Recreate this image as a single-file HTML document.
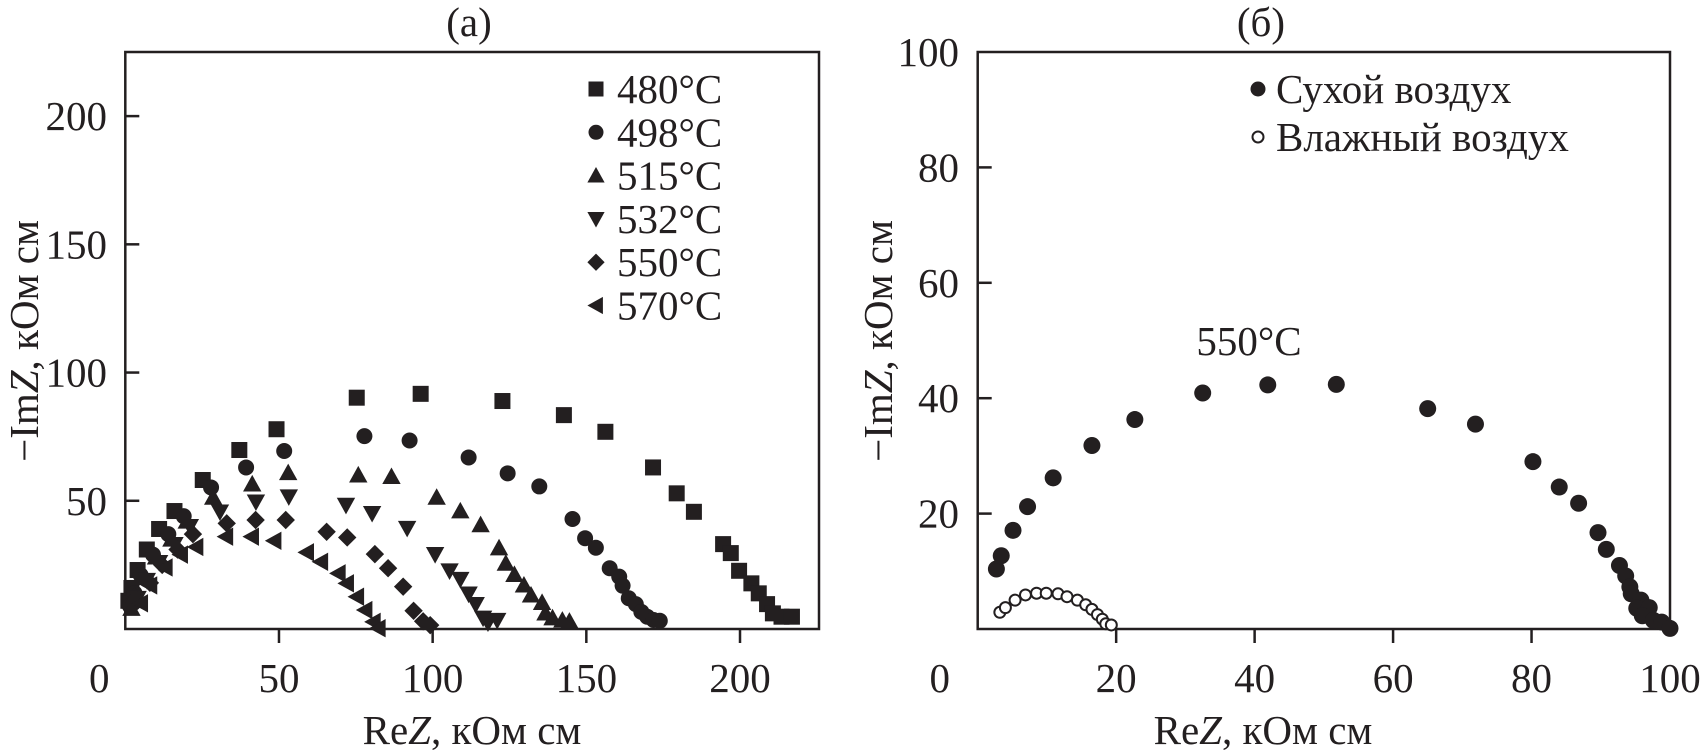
<!DOCTYPE html>
<html><head><meta charset="utf-8">
<style>
html,body{margin:0;padding:0;background:#fff;}
svg{display:block;}
text{font-family:"Liberation Serif",serif;fill:#231f20;}
</style></head>
<body>
<svg id="fig" width="1708" height="750" viewBox="0 0 1708 750" xmlns="http://www.w3.org/2000/svg">
<g id="pa"></g>
<g id="pb"></g>
</svg>
<script>
// Panel (a) data
const seriesNamesA = ["480°C","498°C","515°C","532°C","550°C","570°C"];
const markersA = ["square","circle","up","down","diamond","left"];
const s480x = [1,2,4,7,11,16,25.2,37.1,49.2,75.3,96.1,122.7,142.7,156.2,171.7,179.4,185,194.5,197,199.7,203.7,206.1,208.8,210.7,213.5,216.9];
const s480y = [11,16,23,31,39,46,58.1,69.8,77.9,90.2,91.7,88.9,83.4,76.9,63,52.9,45.7,33.1,29.6,22.7,17.8,13.9,9.7,6.1,4.8,4.8];
const s498x = [1.5,3,5,9,14,19,27.9,39.3,51.7,77.8,92.5,111.7,124.4,134.7,145.5,149.6,153.1,157.6,160.7,161.8,163.8,166.1,167.9,169.8,171.9,173.9];
const s498y = [9,14,21,29,37,44,55.2,63,69.4,75.2,73.5,66.9,60.7,55.6,42.9,35.4,31.7,23.7,20.4,16.9,12,9.7,6.7,4.8,3.5,3.2];
const s515x = [2,3,6,10,15,20,28.6,41.3,53,75.8,86.6,101.3,109,115.6,121.6,123.8,126.6,129.7,132,135.6,136.7,139,142.2,144.5];
const s515y = [8,13,20,28,35,42,51.3,56.5,60.9,60,59.4,51.3,46,40.6,31.6,25.6,21.2,17.1,13.2,10.3,6.2,4.3,3.4,3];
const s532x = [4,7,11,16,21,30.8,42.5,53.2,71.8,80.3,91.7,100.8,105.5,109,111.7,114,116.4,118,121];
const s532y = [12,19,26,33,40,45.7,49.6,51.6,48.3,45.1,39.3,29.1,22.7,19.4,13.7,9.6,4.3,2.4,3.4];
const s550x = [4,8,12,17,22,33,42.4,52.2,65.5,72.2,81.2,85.5,90.4,93.8,96.9,99.2];
const s550y = [11,18,25,31,37,41.2,42.5,42.5,37.9,35.7,29.2,23.7,16.5,7.1,3,1.5];
const s570x = [5,8,13,18,23,32.7,41.1,48.4,59,63.6,69.3,72,75.3,78,80.7,82.3];
const s570y = [10,17,24,29,32,36,36,34.4,29.9,26.2,21.7,17.8,12.6,7.4,2.8,0.3];
const xTicksA = [0,50,100,150,200];
const yTicksA = [50,100,150,200];
// Panel (б) data
const seriesNamesB = ["Сухой воздух","Влажный воздух"];
const dryX = [2.7,3.4,5.1,7.2,10.9,16.5,22.7,32.5,41.9,51.8,65,71.9,80.2,84,86.8,89.6,90.8,92.7,93.6,94.2,94.4,95.8,95.2,97,96,97.6,98.8,100];
const dryY = [10.4,12.7,17.1,21.2,26.2,31.8,36.3,40.9,42.3,42.4,38.2,35.5,29,24.6,21.8,16.7,13.8,11,9.2,7.3,6.1,5,3.6,3.7,2.3,1.5,1.2,0.1];
const wetX = [3.2,4,5.4,6.9,8.5,9.9,11.6,12.9,14.4,15.6,16.5,17.3,18,18.5,19.3];
const wetY = [2.9,3.7,5,5.9,6.2,6.2,6.1,5.6,5,4.2,3.4,2.5,1.7,0.9,0.7];
const xTicksB = [0,20,40,60,80,100];
const yTicksB = [20,40,60,80,100];

const NS="http://www.w3.org/2000/svg";
const FS=41;
function mk(parent,tag,attrs){const e=document.createElementNS(NS,tag);for(const k in attrs)e.setAttribute(k,attrs[k]);parent.appendChild(e);return e;}
function txt(parent,x,y,s,size,anchor){const t=mk(parent,"text",{x:x,y:y,"font-size":size,"text-anchor":anchor||"middle","dominant-baseline":"central"});t.textContent=s;return t;}

function marker(g,type,cx,cy,s){
  let e;
  const h=s/2;
  if(type==="square") e=mk(g,"rect",{x:cx-h,y:cy-h,width:s,height:s,fill:"#231f20"});
  else if(type==="circle") e=mk(g,"circle",{cx:cx,cy:cy,r:h,fill:"#231f20"});
  else if(type==="open") e=mk(g,"circle",{cx:cx,cy:cy,r:h-1,fill:"#fff",stroke:"#231f20","stroke-width":2});
  else {
    let p;
    const r=h*1.15;
    if(type==="up") p=[[cx,cy-r],[cx+r,cy+r*0.8],[cx-r,cy+r*0.8]];
    else if(type==="down") p=[[cx,cy+r],[cx+r,cy-r*0.8],[cx-r,cy-r*0.8]];
    else if(type==="left") p=[[cx-r,cy],[cx+r*0.8,cy-r],[cx+r*0.8,cy+r]];
    else p=[[cx,cy-r],[cx+r,cy],[cx,cy+r],[cx-r,cy]];
    e=mk(g,"polygon",{points:p.map(q=>q.join(",")).join(" "),fill:"#231f20"});
  }
  return e;
}

// ---------- Panel A ----------
(function(){
  const g=document.getElementById("pa");
  const L=125.3,R=819,T=52,B=629,xmax=225.7,ymax=225;
  const sx=v=>L+v*(R-L)/xmax, sy=v=>B-v*(B-T)/ymax;
  const fr=mk(g,"rect",{x:L,y:T,width:R-L,height:B-T,fill:"none",stroke:"#231f20","stroke-width":2.5});
  
  
  xTicksA.forEach(v=>{
    if(v>0){const l=mk(g,"line",{x1:sx(v),x2:sx(v),y1:B,y2:B+14,stroke:"#231f20","stroke-width":2.5});
    
    }
    const t=txt(g,sx(v)-(v===0?26:0),678,String(v),FS);
    
    
  });
  yTicksA.forEach(v=>{
    const l=mk(g,"line",{x1:L,x2:L+14,y1:sy(v),y2:sy(v),stroke:"#231f20","stroke-width":2.5});
    
    
    const t=txt(g,107,sy(v),String(v),FS,"end");
    
    
  });
  const xs=[s480x,s498x,s515x,s532x,s550x,s570x], ys=[s480y,s498y,s515y,s532y,s550y,s570y];
  xs.forEach((arr,i)=>{
    const sg=mk(g,"g",{});
    
    
    arr.forEach((x,j)=>{
      const m=marker(sg,markersA[i],sx(x),sy(ys[i][j]),16);
      
      
    });
  });
  seriesNamesA.forEach((n,i)=>{
    const y=89+i*43.3;
    const lg=mk(g,"g",{});
    
    
    marker(lg,markersA[i],596,y,15);
    txt(lg,617,y,n,FS,"start");
  });
  const tt=txt(g,469,22,"(a)",FS);
  
  
  const xt=mk(g,"text",{x:472,y:730,"font-size":FS,"text-anchor":"middle","dominant-baseline":"central"});
  xt.innerHTML='Re<tspan font-style="italic">Z</tspan>, кОм см';
  
  
  const yt=mk(g,"text",{x:0,y:0,"font-size":FS,"text-anchor":"middle","dominant-baseline":"central",transform:"translate(24,341) rotate(-90)"});
  yt.innerHTML='−Im<tspan font-style="italic">Z</tspan>, кОм см';
  
  
})();

// ---------- Panel B ----------
(function(){
  const g=document.getElementById("pb");
  const L=977.7,R=1670,T=52,B=629,xmax=100,ymax=100;
  const sx=v=>L+v*(R-L)/xmax, sy=v=>B-v*(B-T)/ymax;
  const fr=mk(g,"rect",{x:L,y:T,width:R-L,height:B-T,fill:"none",stroke:"#231f20","stroke-width":2.5});
  
  
  xTicksB.forEach(v=>{
    if(v>0&&v<100){const l=mk(g,"line",{x1:sx(v),x2:sx(v),y1:B,y2:B+14,stroke:"#231f20","stroke-width":2.5});
    
    }
    const t=txt(g,sx(v)-(v===0?38:0),678,String(v),FS);
    
    
  });
  yTicksB.forEach(v=>{
    if(v<100){const l=mk(g,"line",{x1:L,x2:L+14,y1:sy(v),y2:sy(v),stroke:"#231f20","stroke-width":2.5});
    
    }
    const t=txt(g,959,sy(v),String(v),FS,"end");
    
    
  });
  const dg=mk(g,"g",{});
  
  
  dryX.forEach((x,j)=>{const m=marker(dg,"circle",sx(x),sy(dryY[j]),17);
    
    });
  const wg=mk(g,"g",{});
  
  
  wetX.forEach((x,j)=>{const m=marker(wg,"open",sx(x),sy(wetY[j]),13);
    
    });
  ["circle","open"].forEach((t,i)=>{
    const y=89+i*48;
    const lg=mk(g,"g",{});
    
    
    marker(lg,t,1258,y,t==="open"?13:15);
    txt(lg,1276,y,seriesNamesB[i],FS,"start");
  });
  const an=txt(g,1249,341,"550°C",FS);
  
  
  const tt=txt(g,1261,22,"(б)",FS);
  
  
  const xt=mk(g,"text",{x:1263,y:730,"font-size":FS,"text-anchor":"middle","dominant-baseline":"central"});
  xt.innerHTML='Re<tspan font-style="italic">Z</tspan>, кОм см';
  
  
  const yt=mk(g,"text",{x:0,y:0,"font-size":FS,"text-anchor":"middle","dominant-baseline":"central",transform:"translate(878,341) rotate(-90)"});
  yt.innerHTML='−Im<tspan font-style="italic">Z</tspan>, кОм см';
  
  
})();
</script>
</body></html>
